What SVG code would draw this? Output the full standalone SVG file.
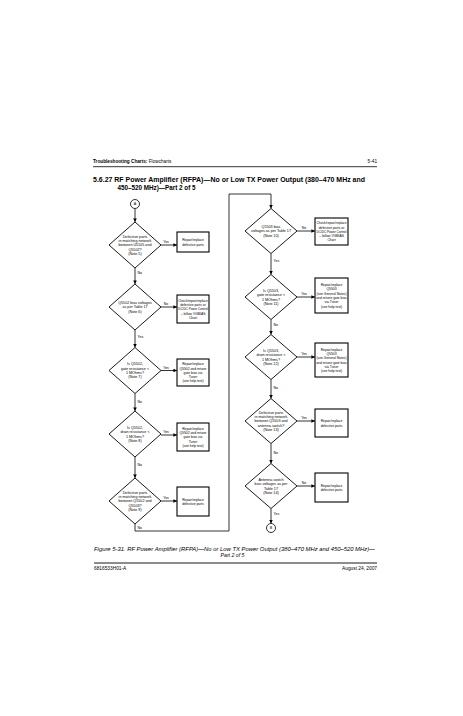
<svg xmlns="http://www.w3.org/2000/svg" width="463" height="716" viewBox="0 0 463 716">
<style>
text{font-family:"Liberation Sans",Arial,sans-serif;fill:#000}
.t{font-size:3.7px;text-anchor:middle}
.bt{font-size:3.35px;text-anchor:middle}
.l{font-size:3.5px}
.lc{font-size:3.5px;text-anchor:middle}
.d{fill:#fff;stroke:#000;stroke-width:0.9}
.b{fill:#fff;stroke:#000;stroke-width:1.1}
.c{fill:none;stroke:#000;stroke-width:0.8}
</style>
<defs>
<marker id="ah" viewBox="0 0 6 6" refX="6" refY="3" markerWidth="3.6" markerHeight="3.6" markerUnits="userSpaceOnUse" orient="auto"><path d="M0,0 L6,3 L0,6 z" fill="#000"/></marker>
</defs>
<rect width="463" height="716" fill="#fff"/>
<g id="header">
<text x="93" y="162.5" style="font-size:4.7px"><tspan font-weight="bold">Troubleshooting Charts:</tspan> Flowcharts</text>
<text x="377" y="162.5" style="font-size:4.7px;text-anchor:end">5-41</text>
<line x1="93" y1="166.7" x2="377" y2="166.7" stroke="#000" stroke-width="0.8"/>
<text x="93" y="182" style="font-size:6.3px;font-weight:bold" textLength="272" lengthAdjust="spacingAndGlyphs">5.6.27  RF Power Amplifier (RFPA)—No or Low TX Power Output (380–470 MHz and</text>
<text x="117.5" y="190" style="font-size:6.3px;font-weight:bold">450–520 MHz)—Part 2 of 5</text>
</g>
<g id="connectors">
<path class="c" d="M135,208.5 V222" marker-end="url(#ah)"/>
<path class="c" d="M161,245 H177" marker-end="url(#ah)"/>
<path class="c" d="M135,268 V284" marker-end="url(#ah)"/>
<path class="c" d="M161,307 H177" marker-end="url(#ah)"/>
<path class="c" d="M135,330 V347.5" marker-end="url(#ah)"/>
<path class="c" d="M161,370.5 H177" marker-end="url(#ah)"/>
<path class="c" d="M135,393.5 V411" marker-end="url(#ah)"/>
<path class="c" d="M161,435 H177" marker-end="url(#ah)"/>
<path class="c" d="M135,457 V478" marker-end="url(#ah)"/>
<path class="c" d="M161,501 H177" marker-end="url(#ah)"/>
<path class="c" d="M135,524 V531 H229 V194 H271 V208.5" marker-end="url(#ah)"/>
<path class="c" d="M297,231 H315" marker-end="url(#ah)"/>
<path class="c" d="M271,253.5 V274.5" marker-end="url(#ah)"/>
<path class="c" d="M297,297 H315" marker-end="url(#ah)"/>
<path class="c" d="M271,319.5 V334.5" marker-end="url(#ah)"/>
<path class="c" d="M297,357 H315" marker-end="url(#ah)"/>
<path class="c" d="M271,379.5 V398.5" marker-end="url(#ah)"/>
<path class="c" d="M297,421 H315" marker-end="url(#ah)"/>
<path class="c" d="M271,443.5 V463.5" marker-end="url(#ah)"/>
<path class="c" d="M297,486 H315" marker-end="url(#ah)"/>
<path class="c" d="M271,508.5 V523.5" marker-end="url(#ah)"/>
<text class="lc" x="166" y="243.2">Yes</text>
<text class="l" x="137.5" y="274.3">No</text>
<text class="lc" x="166" y="305.2">No</text>
<text class="l" x="137.5" y="338.3">Yes</text>
<text class="lc" x="166" y="368.7">Yes</text>
<text class="l" x="137.5" y="403.3">No</text>
<text class="lc" x="166" y="433.2">Yes</text>
<text class="l" x="137.5" y="466.3">No</text>
<text class="lc" x="166" y="499.2">Yes</text>
<text class="l" x="137.5" y="529.2">No</text>
<text class="lc" x="304" y="229.2">No</text>
<text class="l" x="273.5" y="262.3">Yes</text>
<text class="lc" x="304" y="295.2">Yes</text>
<text class="l" x="273.5" y="326">No</text>
<text class="lc" x="304" y="355.2">Yes</text>
<text class="l" x="273.5" y="388.6">No</text>
<text class="lc" x="304" y="419.2">Yes</text>
<text class="l" x="273.5" y="454">No</text>
<text class="lc" x="304" y="484.2">No</text>
<text class="l" x="273.5" y="515.3">Yes</text>
</g>
<g id="A">
<circle cx="135" cy="204" r="4.5" fill="#fff" stroke="#000" stroke-width="0.8"/>
<text class="t" x="135" y="205.4">A</text>
</g>
<g id="L1">
<polygon class="d" points="135,222 161,245 135,268 109,245"/>
<text class="t" x="135" y="237.7">Defective parts</text>
<text class="t" x="135" y="242">in matching network</text>
<text class="t" x="135" y="246.3">between U5505 and</text>
<text class="t" x="135" y="250.6">Q5502?</text>
<text class="t" x="135" y="254.9">(Note 5)</text>
</g>
<g id="B1">
<rect class="b" x="177" y="232" width="32" height="20"/>
<text class="bt" x="193" y="241.2">Repair/replace</text>
<text class="bt" x="193" y="245.5">defective parts</text>
</g>
<g id="L2">
<polygon class="d" points="135,284 161,307 135,330 109,307"/>
<text class="t" x="135" y="304">Q5502 bias voltages</text>
<text class="t" x="135" y="308.3">as per Table 17</text>
<text class="t" x="135" y="312.6">(Note 6)</text>
</g>
<g id="B2">
<rect class="b" x="177" y="295" width="32" height="28"/>
<text class="bt" x="193" y="301.7" textLength="29.5" lengthAdjust="spacingAndGlyphs">Check/repair/replace</text>
<text class="bt" x="193" y="306">defective parts or</text>
<text class="bt" x="193" y="310.3" textLength="29.5" lengthAdjust="spacingAndGlyphs">DC/DC Power Control</text>
<text class="bt" x="193" y="314.6">– follow VGBIAS</text>
<text class="bt" x="193" y="318.9">Chart</text>
</g>
<g id="L3">
<polygon class="d" points="135,347.5 161,370.5 135,393.5 109,370.5"/>
<text class="t" x="135" y="365.4">Is Q5502,</text>
<text class="t" x="135" y="369.7">gate resistance &lt;</text>
<text class="t" x="135" y="374">1 MOhms?</text>
<text class="t" x="135" y="378.3">(Note 7)</text>
</g>
<g id="B3">
<rect class="b" x="177" y="359" width="32" height="27"/>
<text class="bt" x="193" y="365.2">Repair/replace</text>
<text class="bt" x="193" y="369.5">Q5502 and retune</text>
<text class="bt" x="193" y="373.8">gate bias via</text>
<text class="bt" x="193" y="378.1">Tuner</text>
<text class="bt" x="193" y="382.4">(see help text)</text>
</g>
<g id="L4">
<polygon class="d" points="135,411 161,434 135,457 109,434"/>
<text class="t" x="135" y="428.9">Is Q5502,</text>
<text class="t" x="135" y="433.2">drain resistance &lt;</text>
<text class="t" x="135" y="437.5">1 MOhms?</text>
<text class="t" x="135" y="441.8">(Note 8)</text>
</g>
<g id="B4">
<rect class="b" x="177" y="423" width="32" height="28"/>
<text class="bt" x="193" y="429.7">Repair/replace</text>
<text class="bt" x="193" y="434">Q5502 and retune</text>
<text class="bt" x="193" y="438.3">gate bias via</text>
<text class="bt" x="193" y="442.6">Tuner</text>
<text class="bt" x="193" y="446.9">(see help text)</text>
</g>
<g id="L5">
<polygon class="d" points="135,478 161,501 135,524 109,501"/>
<text class="t" x="135" y="493.7">Defective parts</text>
<text class="t" x="135" y="498">in matching network</text>
<text class="t" x="135" y="502.3">between Q5502 and</text>
<text class="t" x="135" y="506.6">Q5503?</text>
<text class="t" x="135" y="510.9">(Note 9)</text>
</g>
<g id="B5">
<rect class="b" x="177" y="487" width="32" height="29"/>
<text class="bt" x="193" y="500.7">Repair/replace</text>
<text class="bt" x="193" y="505">defective parts</text>
</g>
<g id="R1">
<polygon class="d" points="271,208.5 297,231 271,253.5 245,231"/>
<text class="t" x="271" y="228">Q5503 bias</text>
<text class="t" x="271" y="232.3">voltages as per Table 17</text>
<text class="t" x="271" y="236.6">(Note 10)</text>
</g>
<g id="RB1">
<rect class="b" x="315" y="218" width="33" height="27"/>
<text class="bt" x="331.5" y="224.2" textLength="30" lengthAdjust="spacingAndGlyphs">Check/repair/replace</text>
<text class="bt" x="331.5" y="228.5">defective parts or</text>
<text class="bt" x="331.5" y="232.8" textLength="30" lengthAdjust="spacingAndGlyphs">DC/DC Power Control</text>
<text class="bt" x="331.5" y="237.1">– follow VGBIAS</text>
<text class="bt" x="331.5" y="241.4">Chart</text>
</g>
<g id="R2">
<polygon class="d" points="271,274.5 297,297 271,319.5 245,297"/>
<text class="t" x="271" y="291.9">Is Q5503,</text>
<text class="t" x="271" y="296.2">gate resistance &lt;</text>
<text class="t" x="271" y="300.5">1 MOhms?</text>
<text class="t" x="271" y="304.8">(Note 11)</text>
</g>
<g id="RB2">
<rect class="b" x="315" y="278" width="33" height="35"/>
<text class="bt" x="331.5" y="286.1">Repair/replace</text>
<text class="bt" x="331.5" y="290.4">Q5503</text>
<text class="bt" x="331.5" y="294.7">(see General Notes)</text>
<text class="bt" x="331.5" y="299">and retune gate bias</text>
<text class="bt" x="331.5" y="303.3">via Tuner</text>
<text class="bt" x="331.5" y="307.6">(see help text)</text>
</g>
<g id="R3">
<polygon class="d" points="271,334.5 297,357 271,379.5 245,357"/>
<text class="t" x="271" y="351.9">Is Q5503,</text>
<text class="t" x="271" y="356.2">drain resistance &lt;</text>
<text class="t" x="271" y="360.5">1 MOhms?</text>
<text class="t" x="271" y="364.8">(Note 12)</text>
</g>
<g id="RB3">
<rect class="b" x="315" y="343" width="33" height="34"/>
<text class="bt" x="331.5" y="350.6">Repair/replace</text>
<text class="bt" x="331.5" y="354.9">Q5503</text>
<text class="bt" x="331.5" y="359.2">(see General Notes)</text>
<text class="bt" x="331.5" y="363.5">and retune gate bias</text>
<text class="bt" x="331.5" y="367.8">via Tuner</text>
<text class="bt" x="331.5" y="372.1">(see help text)</text>
</g>
<g id="R4">
<polygon class="d" points="271,398.5 297,421 271,443.5 245,421"/>
<text class="t" x="271" y="413.7">Defective parts</text>
<text class="t" x="271" y="418">in matching network</text>
<text class="t" x="271" y="422.3">between Q5503 and</text>
<text class="t" x="271" y="426.6">antenna switch?</text>
<text class="t" x="271" y="430.9">(Note 13)</text>
</g>
<g id="RB4">
<rect class="b" x="315" y="409" width="33" height="28"/>
<text class="bt" x="331.5" y="422.2">Repair/replace</text>
<text class="bt" x="331.5" y="426.5">defective parts</text>
</g>
<g id="R5">
<polygon class="d" points="271,463.5 297,486 271,508.5 245,486"/>
<text class="t" x="271" y="480.9">Antenna switch</text>
<text class="t" x="271" y="485.2">bias voltages as per</text>
<text class="t" x="271" y="489.5">Table 17</text>
<text class="t" x="271" y="493.8">(Note 14)</text>
</g>
<g id="RB5">
<rect class="b" x="315" y="473" width="33" height="29"/>
<text class="bt" x="331.5" y="486.7">Repair/replace</text>
<text class="bt" x="331.5" y="491">defective parts</text>
</g>
<g id="B">
<circle cx="271" cy="528" r="4.5" fill="#fff" stroke="#000" stroke-width="0.8"/>
<text class="t" x="271" y="529.4">B</text>
</g>
<g id="footer">
<text x="234.5" y="551" style="font-size:5.2px;font-style:italic;text-anchor:middle" textLength="281" lengthAdjust="spacingAndGlyphs">Figure 5-31.  RF Power Amplifier (RFPA)—No or Low TX Power Output (380–470 MHz and 450–520 MHz)—</text>
<text x="232.5" y="556.5" style="font-size:5.2px;font-style:italic;text-anchor:middle">Part 2 of 5</text>
<line x1="94" y1="563" x2="377" y2="563" stroke="#000" stroke-width="0.9"/>
<text x="94" y="570" style="font-size:4.8px">6816533H01-A</text>
<text x="377" y="570" style="font-size:4.8px;text-anchor:end">August 24, 2007</text>
</g>
</svg>
